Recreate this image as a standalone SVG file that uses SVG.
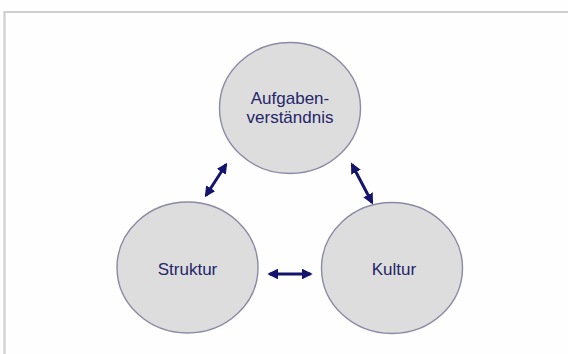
<svg xmlns="http://www.w3.org/2000/svg" width="568" height="354" viewBox="0 0 568 354">
  <defs>
    <style>
      .node ellipse { fill: #dddddd; stroke: #8a8aa4; stroke-width: 1.4; }
      .node text { font-family: "Liberation Sans", Arial, sans-serif; font-size: 17px; fill: #25256a; text-anchor: middle; }
      .conn line { stroke: #14146c; stroke-width: 3; }
      .frame { stroke: #cfcfcf; stroke-width: 2.2; fill: none; }
    </style>
    <marker id="ah" viewBox="0 0 10 10" refX="8" refY="5" markerWidth="3.6" markerHeight="3.6" orient="auto-start-reverse" markerUnits="strokeWidth">
      <path d="M0,0 L10,5 L0,10 z" fill="#14146c"/>
    </marker>
  </defs>
  <rect x="0" y="0" width="568" height="354" fill="#fefefe"/>
  <path class="frame" d="M4.5,354 L4.5,12 L568,12"/>

  <g id="node-aufgaben" class="node">
    <ellipse cx="290" cy="108" rx="70.5" ry="65.5"/>
    <text x="290" y="104">Aufgaben-</text>
    <text x="290" y="123">verständnis</text>
  </g>
  <g id="node-struktur" class="node">
    <ellipse cx="187.5" cy="267.5" rx="70.5" ry="65.5"/>
    <text x="187.5" y="275">Struktur</text>
  </g>
  <g id="node-kultur" class="node">
    <ellipse cx="392" cy="268" rx="70.5" ry="65.5"/>
    <text x="394" y="275">Kultur</text>
  </g>

  <g id="connectors" class="conn">
    <line x1="206" y1="195.5" x2="226" y2="164.5" marker-start="url(#ah)" marker-end="url(#ah)"/>
    <line x1="352" y1="164.5" x2="372" y2="202.5" marker-start="url(#ah)" marker-end="url(#ah)"/>
    <line x1="269.5" y1="274" x2="310.5" y2="274" marker-start="url(#ah)" marker-end="url(#ah)"/>
  </g>
</svg>
